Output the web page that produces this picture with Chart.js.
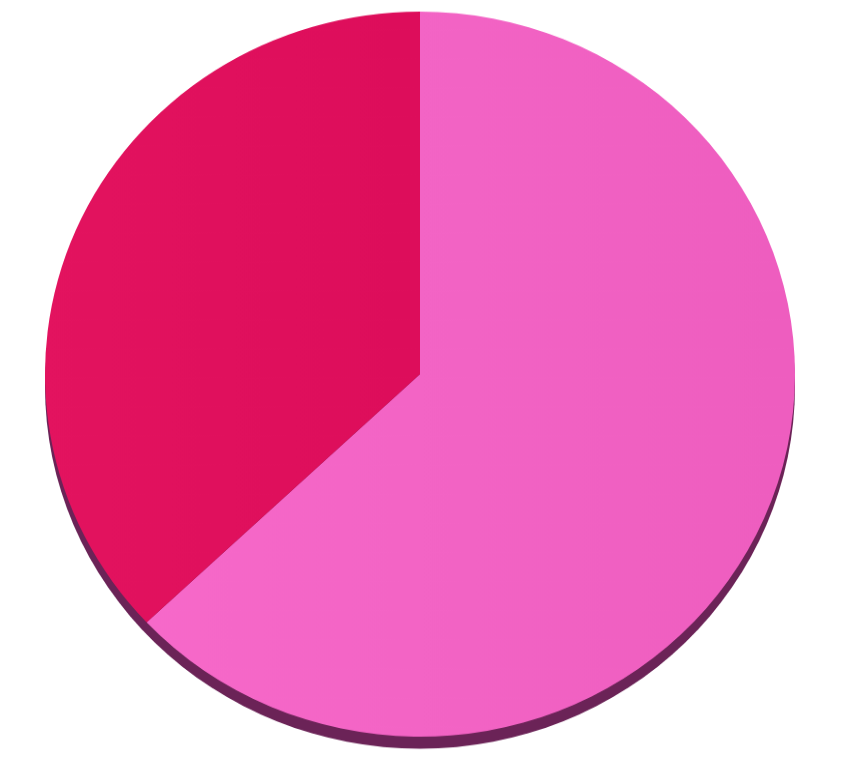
<!DOCTYPE html>
<html>
<head>
<meta charset="utf-8">
<script src="https://cdn.jsdelivr.net/npm/chart.js@4"></script>
<style>
    html, body { margin: 0; padding: 0; background: #ffffff; overflow: hidden; width: 841px; height: 761px; }
    #chartPie { position: absolute; left: 0; top: 0; transform: scaleY(0.9667); transform-origin: 0 0; }
</style>
</head>
<body>
<canvas id="chartPie" width="841" height="800"></canvas>
<script>
// data
const labels = ['A', 'B'];
const values = [63, 37];
const colorsLeft = ['#f86bcb', '#e3135f'];
const colorsRight = ['#ee5dbf', '#d70757'];

// Side of the disc (dark rim under the pie)
const rimPlugin = {
    id: 'rim',
    beforeDatasetsDraw(chart) {
        const arc = chart.getDatasetMeta(0).data[0];
        if (!arc) return;
        const ctx = chart.ctx;
        ctx.save();
        ctx.fillStyle = '#6b2357';
        ctx.beginPath();
        ctx.arc(arc.x, arc.y + 12.5, arc.outerRadius, 0, Math.PI * 2);
        ctx.fill();
        ctx.restore();
    }
};

function sliceColor(context) {
    const area = context.chart.chartArea;
    if (!area) return colorsLeft[context.dataIndex];
    const g = context.chart.ctx.createLinearGradient(area.left, 0, area.right, 0);
    g.addColorStop(0, colorsLeft[context.dataIndex]);
    g.addColorStop(1, colorsRight[context.dataIndex]);
    return g;
}

const ctx = document.getElementById('chartPie').getContext('2d');
const chart = new Chart(ctx, {
    type: 'pie',
    data: {
        labels: labels,
        datasets: [
            {
                data: values,
                backgroundColor: sliceColor,
                borderWidth: 0
            }
        ]
    },
    options: {
        responsive: false,
        animation: false,
        layout: {
            padding: { left: 45, right: 46, top: 12, bottom: 38 }
        },
        plugins: {
            legend: { display: false },
            tooltip: { enabled: false }
        }
    },
    plugins: [rimPlugin]
});
</script>
</body>
</html>
